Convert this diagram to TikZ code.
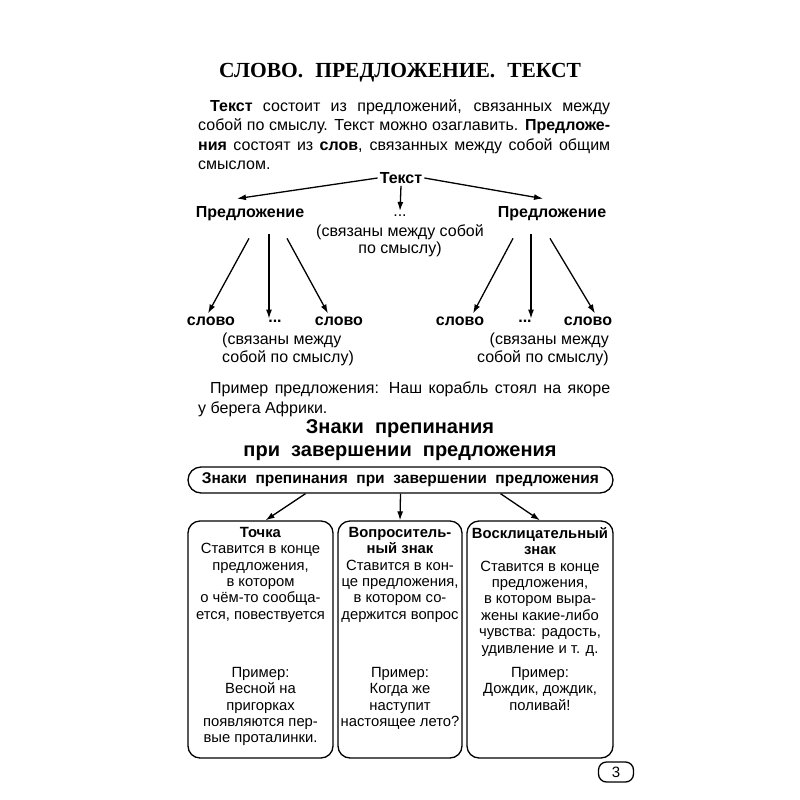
\documentclass[tikz,border=0pt]{standalone}
\usepackage{fontspec}
\setmainfont{Liberation Sans}
\newfontfamily\titlefont{Liberation Serif}
\usetikzlibrary{arrows.meta}
\newcommand{\fullline}[1]{\makebox[412pt][s]{#1}}
\begin{document}
\begin{tikzpicture}[x=1pt,y=-1pt,
  arr/.style={-{Latex[length=9pt,width=6pt]}, line width=1.3pt},
  lbl/.style={font=\fontsize{16}{18}\selectfont\bfseries, inner sep=0pt},
  txt/.style={font=\fontsize{16}{17.5}\selectfont, inner sep=0pt},
  para/.style={font=\fontsize{16}{19.5}\selectfont, inner sep=0pt, align=left, anchor=north west},
  card/.style={draw, line width=1.3pt, rounded corners=12pt, inner sep=0pt},
  boxtxt/.style={font=\fontsize{14.8}{16.4}\selectfont, inner sep=0pt, align=center, anchor=north},
]
\useasboundingbox (0,0) rectangle (800,800);

\node[font=\titlefont\fontsize{21.5}{26}\selectfont\bfseries, inner sep=0pt] (title) at (400,73) {СЛОВО.\hspace{12pt}ПРЕДЛОЖЕНИЕ.\hspace{12pt}ТЕКСТ};

\node[para] (intro) at (198,99) {\fullline{\kern12pt\textbf{Текст} состоит из предложений, связанных между}\\\fullline{собой по смыслу. Текст можно озаглавить. \textbf{Предложе-}}\\\fullline{\textbf{ния} состоят из \textbf{слов}, связанных между собой общим}\\смыслом.};

% tree
\node[lbl] (tekst) at (401,178) {Текст};
\node[lbl] (p1) at (250,214) {Предложение};
\node[lbl] (p2) at (552,214) {Предложение};
\node[txt] (pd) at (400,216) {...};
\node[txt, align=center, anchor=north] (pdn) at (400,224) {(связаны между собой\\по смыслу)};

\draw[arr] ([xshift=-2pt]tekst.west) -- ([xshift=-13pt,yshift=8pt]p1.north);
\draw[arr] ([yshift=-2pt]tekst.south) -- ([yshift=4pt]pd.north);
\draw[arr] ([xshift=2pt]tekst.east) -- ([xshift=-9pt,yshift=8pt]p2.north);

\node[lbl] (w1) at (211,321) {слово};
\node[lbl] (w2) at (275,321) {...};
\node[lbl] (w3) at (339,321) {слово};
\node[txt, align=left, anchor=north west] (wn1) at (222,333) {(связаны между\\собой по смыслу)};
\node[lbl] (w4) at (460,321) {слово};
\node[lbl] (w5) at (525,321) {...};
\node[lbl] (w6) at (588,321) {слово};
\node[txt, align=right, anchor=north east] (wn2) at (609,333) {(связаны между\\собой по смыслу)};

\draw[arr] ([xshift=-1pt,yshift=-17pt]p1.south) -- ([xshift=-3pt,yshift=3pt]w1.north);
\draw[arr] ([xshift=19pt,yshift=-13pt]p1.south) -- ([xshift=-6pt,yshift=1pt]w2.north);
\draw[arr] ([xshift=37pt,yshift=-17pt]p1.south) -- ([xshift=-11pt,yshift=3pt]w3.north);
\draw[arr] ([xshift=-39pt,yshift=-17pt]p2.south) -- ([xshift=13pt,yshift=3pt]w4.north);
\draw[arr] ([xshift=-21pt,yshift=-13pt]p2.south) -- ([xshift=6pt,yshift=1pt]w5.north);
\draw[arr] ([xshift=-2pt,yshift=-17pt]p2.south) -- ([xshift=7pt,yshift=3pt]w6.north);

\node[para] (ex) at (198,382) {\fullline{\kern12pt Пример предложения: Наш корабль стоял на якоре}\\у берега Африки.};

\node[font=\fontsize{20}{23}\selectfont\bfseries, align=center, inner sep=0pt] (head) at (400,440) {Знаки\ \ препинания\\при\ \ завершении\ \ предложения};

\node[card, rounded corners=13pt, minimum width=425pt, minimum height=26pt, font=\fontsize{15.5}{18}\selectfont\bfseries] (hb) at (400.5,480) {Знаки\ \ препинания\ \ при\ \ завершении\ \ предложения};

\node[card, minimum width=145pt, minimum height=237pt] (b1) at (260.5,639.5) {};
\node[card, minimum width=124pt, minimum height=237pt] (b2) at (400,639.5) {};
\node[card, minimum width=146pt, minimum height=237pt] (b3) at (540,639.5) {};

\draw[arr] ([xshift=-95pt]hb.south) -- ([xshift=5pt]b1.north);
\draw[arr] (hb.south) -- (b2.north);
\draw[arr] ([xshift=100pt]hb.south) -- ([xshift=0pt]b3.north);

\node[boxtxt] (t1) at (260.5,527) {\textbf{Точка}\\Ставится в конце\\предложения,\\в котором\\о чём-то сообща-\\ется, повествуется};
\node[boxtxt] (e1) at (260.5,667) {Пример:\\Весной на\\пригорках\\появляются пер-\\вые проталинки.};

\node[boxtxt] (t2) at (400,527) {\textbf{Вопроситель-}\\\textbf{ный знак}\\Ставится в кон-\\це предложения,\\в котором со-\\держится вопрос};
\node[boxtxt] (e2) at (400,667) {Пример:\\Когда же\\наступит\\настоящее лето?};

\node[boxtxt] (t3) at (540,527) {\textbf{Восклицательный}\\\textbf{знак}\\Ставится в конце\\предложения,\\в котором выра-\\жены какие-либо\\чувства: радость,\\удивление и т. д.};
\node[boxtxt] (e3) at (540,667) {Пример:\\Дождик, дождик,\\поливай!};

\node[draw, line width=1.3pt, rounded corners=8pt, minimum width=35pt, minimum height=20pt, inner sep=0pt, font=\fontsize{15}{18}\selectfont] (pg) at (616,772) {3};
\end{tikzpicture}
\end{document}
